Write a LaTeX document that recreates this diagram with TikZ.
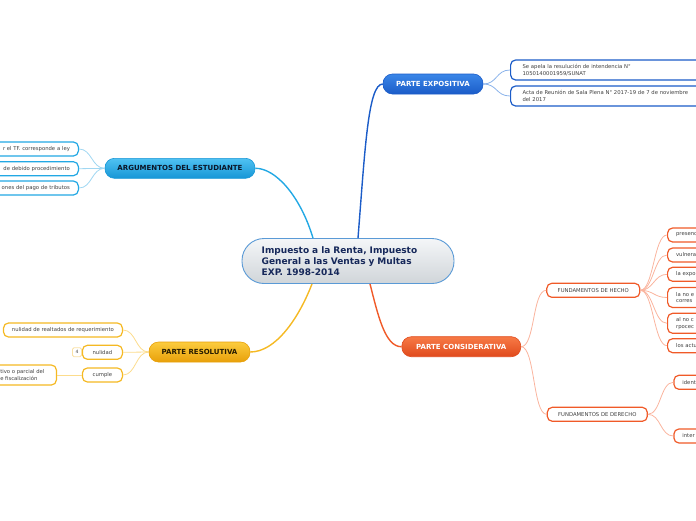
\documentclass[tikz,border=0pt]{standalone}
\usepackage{fontspec}
\setmainfont{DejaVu Sans}
\usepackage{tikz}
\definecolor{centroBorde}{RGB}{90,154,214}
\definecolor{centroClaro}{RGB}{244,246,248}
\definecolor{centroOscuro}{RGB}{208,213,217}
\definecolor{centroTexto}{RGB}{22,40,90}
\definecolor{expoAzul}{RGB}{27,92,200}
\definecolor{expoClaro}{RGB}{58,134,232}
\definecolor{expoLinea}{RGB}{140,180,235}
\definecolor{argAzul}{RGB}{34,168,228}
\definecolor{argClaro}{RGB}{80,194,242}
\definecolor{argOscuro}{RGB}{22,150,214}
\definecolor{argLinea}{RGB}{160,215,242}
\definecolor{argTexto}{RGB}{10,22,40}
\definecolor{resOro}{RGB}{245,185,35}
\definecolor{resClaro}{RGB}{252,204,62}
\definecolor{resOscuro}{RGB}{232,160,10}
\definecolor{resLinea}{RGB}{252,220,140}
\definecolor{resTexto}{RGB}{40,28,0}
\definecolor{consRojo}{RGB}{240,90,40}
\definecolor{consClaro}{RGB}{247,122,70}
\definecolor{consOscuro}{RGB}{224,74,28}
\definecolor{consLinea}{RGB}{250,180,158}
\definecolor{hojaTexto}{RGB}{64,64,64}
\definecolor{insigniaBorde}{RGB}{250,225,165}

\tikzset{
  centro/.style={rectangle, rounded corners=22pt, draw=centroBorde, line width=0.9pt,
    top color=centroClaro, bottom color=centroOscuro, minimum width=212pt, minimum height=45pt,
    inner xsep=19.7pt, text width=172.6pt, align=left, text=centroTexto,
    font=\fontsize{9}{10.7}\selectfont\bfseries},
  rama/.style={rectangle, rounded corners=9.5pt, line width=0.6pt, minimum height=20pt,
    inner sep=0pt, font=\fontsize{7}{8}\selectfont\bfseries},
  hoja/.style={rectangle, rounded corners=5pt, fill=white, line width=1.2pt,
    minimum height=14pt, inner xsep=8.5pt, inner ysep=1.5pt, text=hojaTexto,
    font=\fontsize{5.3}{6.6}\selectfont},
  hojaExpo/.style={hoja, draw=expoAzul, anchor=west, text width=200pt, align=left,
    inner xsep=12pt, minimum height=20pt},
  hojaArg/.style={hoja, draw=argAzul, anchor=east, text width=110pt, align=right},
  hojaRes/.style={hoja, draw=resOro, anchor=east, align=center},
  hojaCons/.style={hoja, draw=consRojo, align=center},
  hojaFin/.style={hoja, draw=consRojo, anchor=west, text width=70pt, align=left},
  insignia/.style={rectangle, rounded corners=1.5pt, draw=insigniaBorde, line width=0.8pt,
    fill=white, minimum width=9pt, minimum height=9pt, inner sep=0pt,
    font=\fontsize{4.5}{5}\selectfont, text=hojaTexto},
  tronco/.style={line width=1.4pt},
  enlace/.style={line width=0.8pt}
}

\begin{document}
\begin{tikzpicture}[x=1pt,y=-1pt]
  \useasboundingbox (0,0) rectangle (696,520);
  \clip (0,0) rectangle (696,520);

  % CENTRE
  \node[centro] (tema) at (348,261)
    {Impuesto a la Renta, Impuesto\\General a las Ventas y Multas\\EXP. 1998-2014};

  % TOP RIGHT: parte expositiva
  \node[rama, minimum width=100pt, top color=expoClaro, bottom color=expoAzul,
    draw=expoAzul, text=white] (expo) at (433,84) {PARTE EXPOSITIVA};
  \node[hojaExpo] (apela) at (510,70)
    {Se apela la resulución de intendencia N°\\1050140001959/SUNAT};
  \node[hojaExpo] (acta) at (510,96)
    {Acta de Reunión de Sala Plena N° 2017-19 de 7 de noviembre\\del 2017};
  \draw[tronco, expoAzul] ([xshift=10pt]tema.north) .. controls (365,150) and (368,84) .. (expo.west);
  \draw[enlace, expoLinea] (expo.east) .. controls +(14,0) and +(-14,0) .. (apela.west);
  \draw[enlace, expoLinea] (expo.east) .. controls +(14,0) and +(-14,0) .. (acta.west);

  % TOP LEFT: argumentos
  \node[rama, minimum width=150pt, top color=argClaro, bottom color=argOscuro,
    draw=argOscuro, text=argTexto] (arg) at (180,168.3) {ARGUMENTOS DEL ESTUDIANTE};
  \node[hojaArg] (ley) at (79,149) {r el TF. corresponde a ley};
  \node[hojaArg] (debido) at (79,168.7) {de debido procedimiento};
  \node[hojaArg] (tributos) at (79,188) {ones del pago de tributos};
  \draw[tronco, argAzul] ([xshift=-35pt]tema.north) .. controls (300,195) and (275,168) .. (arg.east);
  \foreach \hijo in {ley,debido,tributos}
    \draw[enlace, argLinea] (arg.west) .. controls +(-13,0) and +(13,0) .. (\hijo.east);

  % BOTTOM LEFT: parte resolutiva
  \node[rama, minimum width=101pt, top color=resClaro, bottom color=resOscuro,
    draw=resOscuro, text=resTexto] (reso) at (199.5,352) {PARTE RESOLUTIVA};
  \node[hojaRes] (realtados) at (123,330) {nulidad de realtados de requerimiento};
  \node[hojaRes, minimum width=40pt] (nulidad) at (123,352.3) {nulidad};
  \node[hojaRes, minimum width=40pt] (cumple) at (123,375) {cumple};
  \node[insignia] (cuatro) at (77,352.2) {4};
  \node[hoja, draw=resOro, anchor=east, align=left, inner xsep=12pt, minimum height=20pt]
    (fiscal) at (57,375) {tivo o parcial del\\e fiscalización};
  \draw[tronco, resOro] ([xshift=-36pt]tema.south) .. controls (298,320) and (275,352) .. (reso.east);
  \foreach \hijo in {realtados,nulidad,cumple}
    \draw[enlace, resLinea] (reso.west) .. controls +(-13,0) and +(13,0) .. (\hijo.east);
  \draw[enlace, resLinea] (cumple.west) -- (fiscal.east);

  % BOTTOM RIGHT: parte considerativa
  \node[rama, minimum width=119pt, top color=consClaro, bottom color=consOscuro,
    draw=consOscuro, text=white] (cons) at (461.3,346.7) {PARTE CONSIDERATIVA};
  \node[hojaCons, minimum width=93pt] (hecho) at (593.3,290.3) {FUNDAMENTOS DE HECHO};
  \node[hojaCons, minimum width=100pt] (derecho) at (597.3,414.3) {FUNDAMENTOS DE DERECHO};
  \draw[tronco, consRojo] ([xshift=22pt]tema.south) .. controls (378,315) and (385,347) .. (cons.west);
  \draw[enlace, consLinea] (cons.east) .. controls +(14,0) and +(-14,0) .. (hecho.west);
  \draw[enlace, consLinea] (cons.east) .. controls +(14,0) and +(-14,0) .. (derecho.west);
  % hechos
  \node[hojaFin] (presenc) at (667,235) {presenc};
  \node[hojaFin] (vulnera) at (667,255) {vulnera};
  \node[hojaFin] (expo2) at (667,274.3) {la expo};
  \node[hojaFin, minimum height=20pt] (noe) at (667,297.5) {la no e\\corres};
  \node[hojaFin, minimum height=20pt] (noc) at (667,323.3) {al no c\\rpocec};
  \node[hojaFin] (actu) at (667,345.7) {los actu};
  \foreach \hijo in {presenc,vulnera,expo2,noe,noc,actu}
    \draw[enlace, consLinea] (hecho.east) .. controls +(13,0) and +(-13,0) .. (\hijo.west);
  % derecho
  \node[hojaFin] (ident) at (673.3,382.3) {ident};
  \node[hojaFin] (inter) at (673.3,436) {inter};
  \foreach \hijo in {ident,inter}
    \draw[enlace, consLinea] (derecho.east) .. controls +(13,0) and +(-13,0) .. (\hijo.west);
\end{tikzpicture}
\end{document}
